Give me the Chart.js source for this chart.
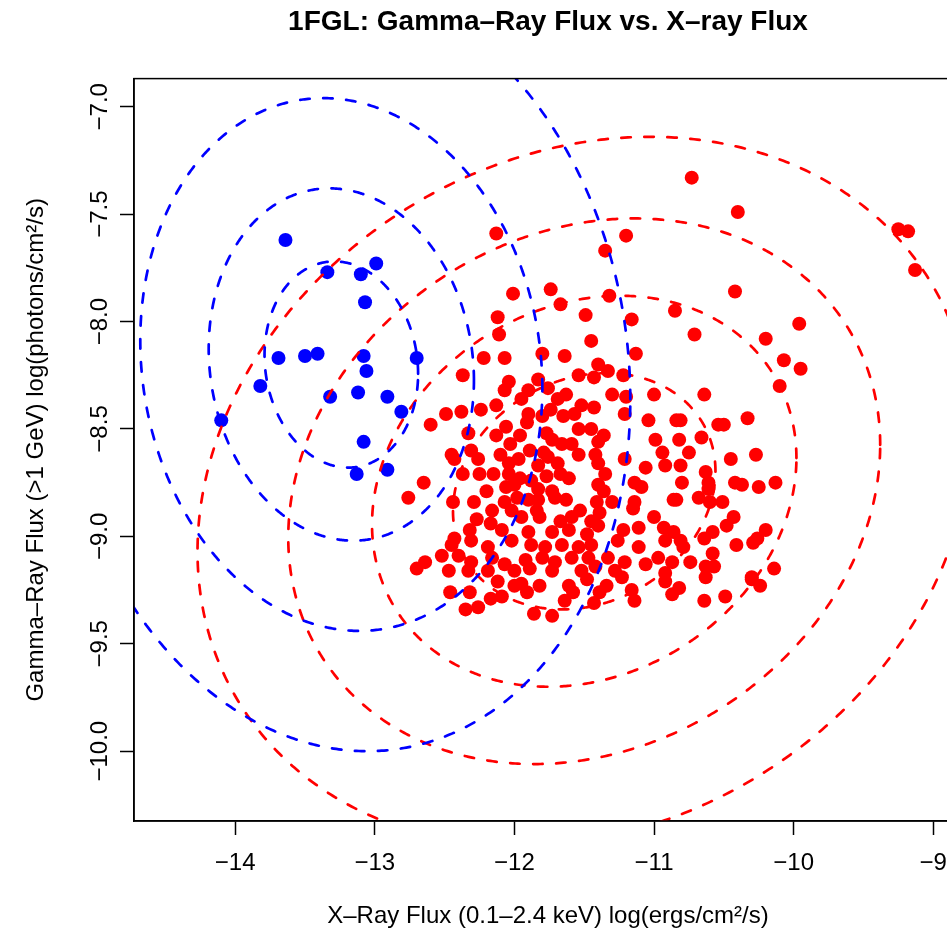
<!DOCTYPE html>
<html><head><meta charset="utf-8">
<script src="https://cdn.jsdelivr.net/npm/chart.js@4"></script>
<style>html,body{margin:0;padding:0;overflow:hidden;background:#fff}#wrap{width:1096px;height:932px}</style>
</head><body><div id="wrap"><canvas id="c" width="1096" height="932"></canvas></div>
<script>
const titleText = '1FGL: Gamma\u2013Ray Flux vs. X\u2013ray Flux';
const xTitle = 'X\u2013Ray Flux (0.1\u20132.4 keV) log(ergs/cm\u00b2/s)';
const yTitle = 'Gamma\u2013Ray Flux (>1 GeV) log(photons/cm\u00b2/s)';
const xTicks = [-14, -13, -12, -11, -10, -9];
const yTicks = [-10, -9.5, -9, -8.5, -8, -7.5, -7];
const xRange = [-14.725, -8.794];
const yRange = [-10.325, -6.869];

const bluePoints = [
[-13.64,-7.62],[-13.34,-7.77],[-13.10,-7.78],[-12.99,-7.73],[-13.07,-7.91],[-13.69,-8.17],[-13.50,-8.16],
[-13.41,-8.15],[-13.08,-8.16],[-13.06,-8.23],[-13.82,-8.30],[-13.32,-8.35],[-13.12,-8.33],[-12.91,-8.35],
[-12.81,-8.42],[-14.10,-8.46],[-13.08,-8.56],[-13.13,-8.71],[-12.91,-8.69],[-12.70,-8.17]
];

const redPoints = [
[-12.13,-7.59],[-11.20,-7.60],[-11.35,-7.67],[-12.01,-7.87],[-11.74,-7.85],[-11.67,-7.92],[-12.12,-7.98],
[-11.49,-7.97],[-11.32,-7.88],[-11.16,-7.99],[-10.85,-7.95],[-10.73,-7.33],[-10.40,-7.49],[-9.25,-7.57],
[-9.18,-7.58],[-9.13,-7.76],[-10.42,-7.86],[-9.96,-8.01],
[-10.71,-8.06],[-10.20,-8.08],[-10.07,-8.18],[-9.95,-8.22],[-10.10,-8.30],[-10.64,-8.34],[-10.33,-8.45],
[-10.81,-8.46],[-10.54,-8.48],[-10.50,-8.48],[-10.66,-8.54],[-10.82,-8.55],[-10.75,-8.61],[-10.45,-8.64],
[-10.27,-8.62],[-10.81,-8.67],[-10.63,-8.70],[-10.80,-8.75],[-10.61,-8.75],[-10.61,-8.78],[-10.42,-8.75],
[-10.37,-8.76],[-10.25,-8.77],[-10.13,-8.75],[-10.68,-8.82],[-10.84,-8.83],[-10.60,-8.84],[-10.51,-8.84],
[-10.43,-8.91],[-10.48,-8.95],[-10.20,-8.97],[-10.58,-8.98],[-10.64,-9.01],[-10.26,-9.01],[-10.29,-9.03],
[-10.41,-9.04],[-10.81,-9.02],[-10.79,-9.05],[-10.58,-9.08],[-10.74,-9.12],[-10.63,-9.14],[-10.57,-9.14],
[-10.14,-9.15],[-10.30,-9.19],
[-10.82,-9.24],[-10.63,-9.19],[-10.30,-9.20],[-10.24,-9.23],[-10.64,-9.30],[-10.49,-9.28],
[-12.46,-9.26],[-12.32,-9.26],[-12.35,-9.34],[-12.26,-9.33],[-12.17,-9.29],[-12.09,-9.28],[-12.12,-9.21],
[-12.00,-9.23],[-11.95,-9.22],[-11.91,-9.26],[-11.86,-9.36],[-11.82,-9.23],[-11.73,-9.37],[-11.64,-9.30],
[-11.61,-9.23],[-11.58,-9.26],[-11.48,-9.20],[-11.43,-9.31],[-11.39,-9.26],[-11.34,-9.23],[-11.23,-9.19],
[-11.16,-9.25],[-11.14,-9.30],[-10.92,-9.21],[-10.87,-9.27],
[-12.11,-8.06],[-11.45,-8.09],[-11.80,-8.15],[-11.64,-8.16],[-11.13,-8.15],[-12.22,-8.17],[-12.07,-8.17],
[-11.40,-8.20],[-11.54,-8.25],[-11.33,-8.23],[-11.22,-8.25],[-12.37,-8.25],[-11.43,-8.26],[-11.83,-8.27],
[-12.04,-8.28],[-12.07,-8.32],[-11.76,-8.31],[-11.90,-8.32],[-11.00,-8.34],[-11.30,-8.34],[-11.20,-8.35],
[-11.63,-8.34],[-11.69,-8.36],[-11.95,-8.36],[-11.52,-8.39],[-11.43,-8.40],[-11.74,-8.41],[-12.24,-8.41],
[-12.38,-8.42],[-12.49,-8.43],[-11.57,-8.43],[-11.90,-8.43],[-11.65,-8.44],[-12.13,-8.39],[-11.80,-8.44],
[-11.21,-8.43],[-11.91,-8.47],[-12.60,-8.48],[-11.04,-8.46],[-10.84,-8.46],[-12.06,-8.49],[-11.54,-8.50],
[-11.45,-8.50],[-11.36,-8.53],[-11.96,-8.53],[-12.13,-8.53],[-12.33,-8.52],[-11.77,-8.52],[-11.40,-8.56],
[-10.99,-8.55],[-12.03,-8.57],[-11.73,-8.55],[-11.66,-8.57],[-11.59,-8.57],[-12.10,-8.62],[-12.31,-8.60],
[-12.45,-8.62],[-11.89,-8.60],[-11.79,-8.61],[-11.54,-8.62],[-11.42,-8.62],[-11.21,-8.64],[-10.94,-8.61],
[-11.76,-8.63],[-12.43,-8.64],[-12.26,-8.64],[-11.97,-8.64],[-12.04,-8.66],[-11.69,-8.66],[-11.83,-8.67],
[-11.40,-8.66],[-11.06,-8.68],[-10.92,-8.67],[-12.37,-8.71],[-12.25,-8.71],[-12.15,-8.71],[-12.04,-8.71],
[-11.96,-8.73],[-11.77,-8.72],[-11.67,-8.71],[-11.61,-8.73],[-11.35,-8.71],[-12.65,-8.75],[-12.00,-8.76],
[-11.88,-8.74],[-11.40,-8.76],[-11.14,-8.75],[-12.20,-8.79],[-12.06,-8.77],[-11.83,-8.78],[-11.73,-8.79],
[-11.36,-8.79],[-11.09,-8.77],[-12.76,-8.82],[-12.44,-8.84],[-12.29,-8.84],[-12.07,-8.84],[-11.98,-8.82],
[-11.90,-8.83],[-11.83,-8.83],[-11.71,-8.82],[-11.63,-8.83],[-11.41,-8.84],[-11.30,-8.84],[-11.14,-8.84],
[-10.86,-8.83],[-12.16,-8.88],[-12.02,-8.88],[-11.84,-8.88],[-11.53,-8.88],[-11.39,-8.89],[-11.15,-8.87],
[-12.27,-8.92],[-12.17,-8.94],[-11.95,-8.91],[-11.82,-8.91],[-11.67,-8.93],[-11.59,-8.91],[-11.45,-8.93],
[-11.00,-8.91],[-12.43,-9.01],[-12.32,-8.97],[-12.09,-8.97],[-12.02,-9.02],[-11.90,-8.98],[-11.73,-8.98],
[-11.61,-8.97],[-11.48,-8.99],[-11.40,-8.95],[-11.22,-8.97],[-11.11,-8.96],[-10.93,-8.96],[-10.86,-8.98],
[-12.45,-9.04],[-12.31,-9.02],[-12.19,-9.05],[-11.88,-9.04],[-11.78,-9.05],[-11.66,-9.04],[-11.54,-9.05],
[-11.45,-9.04],[-11.26,-9.02],[-11.11,-9.05],[-10.92,-9.02],[-12.64,-9.12],[-12.52,-9.09],[-12.40,-9.09],
[-12.31,-9.12],[-12.16,-9.10],[-12.07,-9.13],[-11.92,-9.11],[-11.80,-9.10],[-11.71,-9.12],[-11.59,-9.10],
[-11.47,-9.10],[-11.33,-9.10],[-11.21,-9.12],[-11.06,-9.13],[-10.97,-9.10],[-10.87,-9.12],[-12.70,-9.15],
[-12.47,-9.16],[-12.33,-9.16],[-12.19,-9.16],[-12.00,-9.16],[-11.89,-9.15],[-11.73,-9.16],[-11.52,-9.16],
[-11.42,-9.14],[-11.28,-9.16],[-10.92,-9.17]
];

// dashed confidence ellipses: centre, correlation and x/y half-extents (data units)
const blueCenter = [-13.24, -8.20];
const blueRho = -0.09;
const blueA = [0.55, 0.95, 1.44, 2.07];
const blueB = [0.48, 0.82, 1.24, 1.80];
const redCenter = [-11.50, -8.79];
const redRho = 0.17;
const redA = [0.94, 1.52, 2.12, 2.77];
const redB = [0.55, 0.91, 1.27, 1.65];

const FONT = '"Liberation Sans", Arial, Helvetica, sans-serif';
const minus = s => String(s).replace('-', '\u2212');

const ellipsePlugin = {
  id: 'ellipses',
  afterDatasetsDraw(chart) {
    const {ctx, chartArea: a, scales: {x, y}} = chart;
    ctx.save();
    ctx.beginPath();
    ctx.rect(a.left, a.top, a.right - a.left, a.bottom - a.top);
    ctx.clip();
    ctx.lineWidth = 2.7;
    ctx.lineCap = 'round';
    ctx.setLineDash([9.5, 13.5]);
    const draw = (c, rho, As, Bs, color) => {
      ctx.strokeStyle = color;
      const s = Math.sqrt(1 - rho * rho);
      As.forEach((A, k) => {
        const B = Bs[k];
        ctx.beginPath();
        for (let i = 0; i <= 720; i++) {
          const t = i * Math.PI / 360;
          const px = x.getPixelForValue(c[0] + A * Math.cos(t));
          const py = y.getPixelForValue(c[1] + B * (rho * Math.cos(t) + s * Math.sin(t)));
          if (i) ctx.lineTo(px, py); else ctx.moveTo(px, py);
        }
        ctx.stroke();
      });
    };
    draw(redCenter, redRho, redA, redB, '#ff0000');
    draw(blueCenter, blueRho, blueA, blueB, '#0000ff');
    ctx.restore();
  }
};

const framePlugin = {
  id: 'frame',
  afterDraw(chart) {
    const {ctx, chartArea: a} = chart;
    ctx.save();
    ctx.strokeStyle = '#000';
    ctx.lineWidth = 1.5;
    ctx.strokeRect(a.left, a.top, a.right - a.left, a.bottom - a.top);
    ctx.restore();
  }
};

new Chart(document.getElementById('c'), {
  type: 'scatter',
  data: {
    datasets: [
      {label: 'blue', data: bluePoints.map(p => ({x: p[0], y: p[1]})), backgroundColor: '#0000ff', borderWidth: 0, pointRadius: 7, pointHoverRadius: 7},
      {label: 'red', data: redPoints.map(p => ({x: p[0], y: p[1]})), backgroundColor: '#ff0000', borderWidth: 0, pointRadius: 7, pointHoverRadius: 7}
    ]
  },
  options: {
    responsive: false,
    animation: false,
    devicePixelRatio: 1,
    layout: {padding: {left: 0, right: 134, top: 0, bottom: 0}},
    plugins: {
      legend: {display: false},
      tooltip: {enabled: false},
      title: {display: true, fullSize: false, text: titleText, color: '#000', font: {family: FONT, size: 28, weight: 'bold'}, padding: {top: 5, bottom: 40}}
    },
    scales: {
      x: {
        type: 'linear', position: 'bottom', min: xRange[0], max: xRange[1],
        afterFit: s => { s.height = 111; },
        afterBuildTicks: s => { s.ticks = xTicks.map(v => ({value: v})); },
        ticks: {color: '#000', font: {family: FONT, size: 24}, padding: 14, callback: v => minus(v)},
        grid: {drawOnChartArea: false, drawTicks: true, tickLength: 14, tickColor: '#000', tickWidth: 1.5},
        border: {display: true, color: '#000', width: 1.5},
        title: {display: true, text: xTitle, color: '#000', font: {family: FONT, size: 24}, padding: {top: 0, bottom: 1}}
      },
      y: {
        type: 'linear', position: 'left', min: yRange[0], max: yRange[1],
        afterFit: s => { s.width = 134; },
        afterBuildTicks: s => { s.ticks = yTicks.map(v => ({value: v})); },
        ticks: {color: '#000', font: {family: FONT, size: 24}, padding: -11, minRotation: 90, maxRotation: 90, crossAlign: 'center', callback: v => minus(Number(v).toFixed(1))},
        grid: {drawOnChartArea: false, drawTicks: true, tickLength: 14, tickColor: '#000', tickWidth: 1.5},
        border: {display: true, color: '#000', width: 1.5},
        title: {display: true, text: yTitle, color: '#000', font: {family: FONT, size: 24}, padding: {top: 22, bottom: 0}}
      }
    }
  },
  plugins: [ellipsePlugin, framePlugin]
});
</script>
</body></html>
